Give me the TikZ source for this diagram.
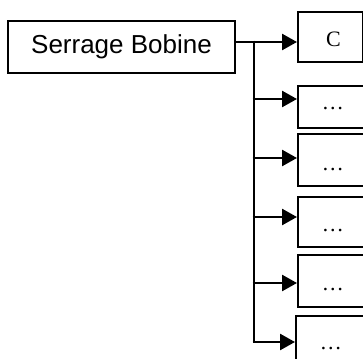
\documentclass[tikz,border=0pt]{standalone}
\usepackage{fontspec}
\setmainfont{Liberation Serif}
\newfontfamily\arialfont{Liberation Sans}
\usetikzlibrary{arrows.meta}
\begin{document}
\begin{tikzpicture}[x=1pt,y=-1pt,
  mainbox/.style={draw,line width=1.8pt,minimum width=227pt,minimum height=52pt,inner sep=0pt,font=\arialfont\fontsize{26}{30}\selectfont},
  leafbox/.style={draw,line width=1.8pt,minimum width=70pt,anchor=west,inner sep=0pt,text height=#1,text depth=0pt,font=\fontsize{22}{26}\selectfont},
  conn/.style={line width=2.6pt},
  arr/.style={line width=2.6pt,-{Triangle[length=15pt,width=16pt]}}]
\useasboundingbox (0,0) rectangle (363,358);
\clip (0,0) rectangle (363,358);
\node[mainbox] (main) at (121.5,47) {Serrage Bobine};
\node[leafbox=20pt,minimum width=65pt,minimum height=50pt,text width=65pt,align=center] (c) at (297,37) {\hspace*{6pt}C};
\node[leafbox=5pt,minimum height=42pt] (b2) at (297,107) {\dots};
\node[leafbox=21pt,minimum height=52pt] (b3) at (297,160) {\dots};
\node[leafbox=18pt,minimum height=50pt] (b4) at (297,222) {\dots};
\node[leafbox=19pt,minimum height=52pt] (b5) at (297,281) {\dots};
\node[leafbox=13pt,minimum height=54pt] (b6) at (295,343) {\dots};
\coordinate (j1) at (254,42);
\coordinate (j2) at (254,99);
\coordinate (j3) at (254,158);
\coordinate (j4) at (254,217);
\coordinate (j5) at (254,283);
\coordinate (j6) at (254,342);
\draw[arr] (main.east |- j1) -- (c.west |- j1);
\draw[conn] ([yshift=1.3pt]j1) -- ([yshift=-1.3pt]j6);
\draw[arr] ([xshift=-1.3pt]j2) -- (b2.west |- j2);
\draw[arr] ([xshift=-1.3pt]j3) -- (b3.west |- j3);
\draw[arr] ([xshift=-1.3pt]j4) -- (b4.west |- j4);
\draw[arr] ([xshift=-1.3pt]j5) -- (b5.west |- j5);
\draw[arr] ([xshift=-1.3pt]j6) -- (b6.west |- j6);
\end{tikzpicture}
\end{document}
